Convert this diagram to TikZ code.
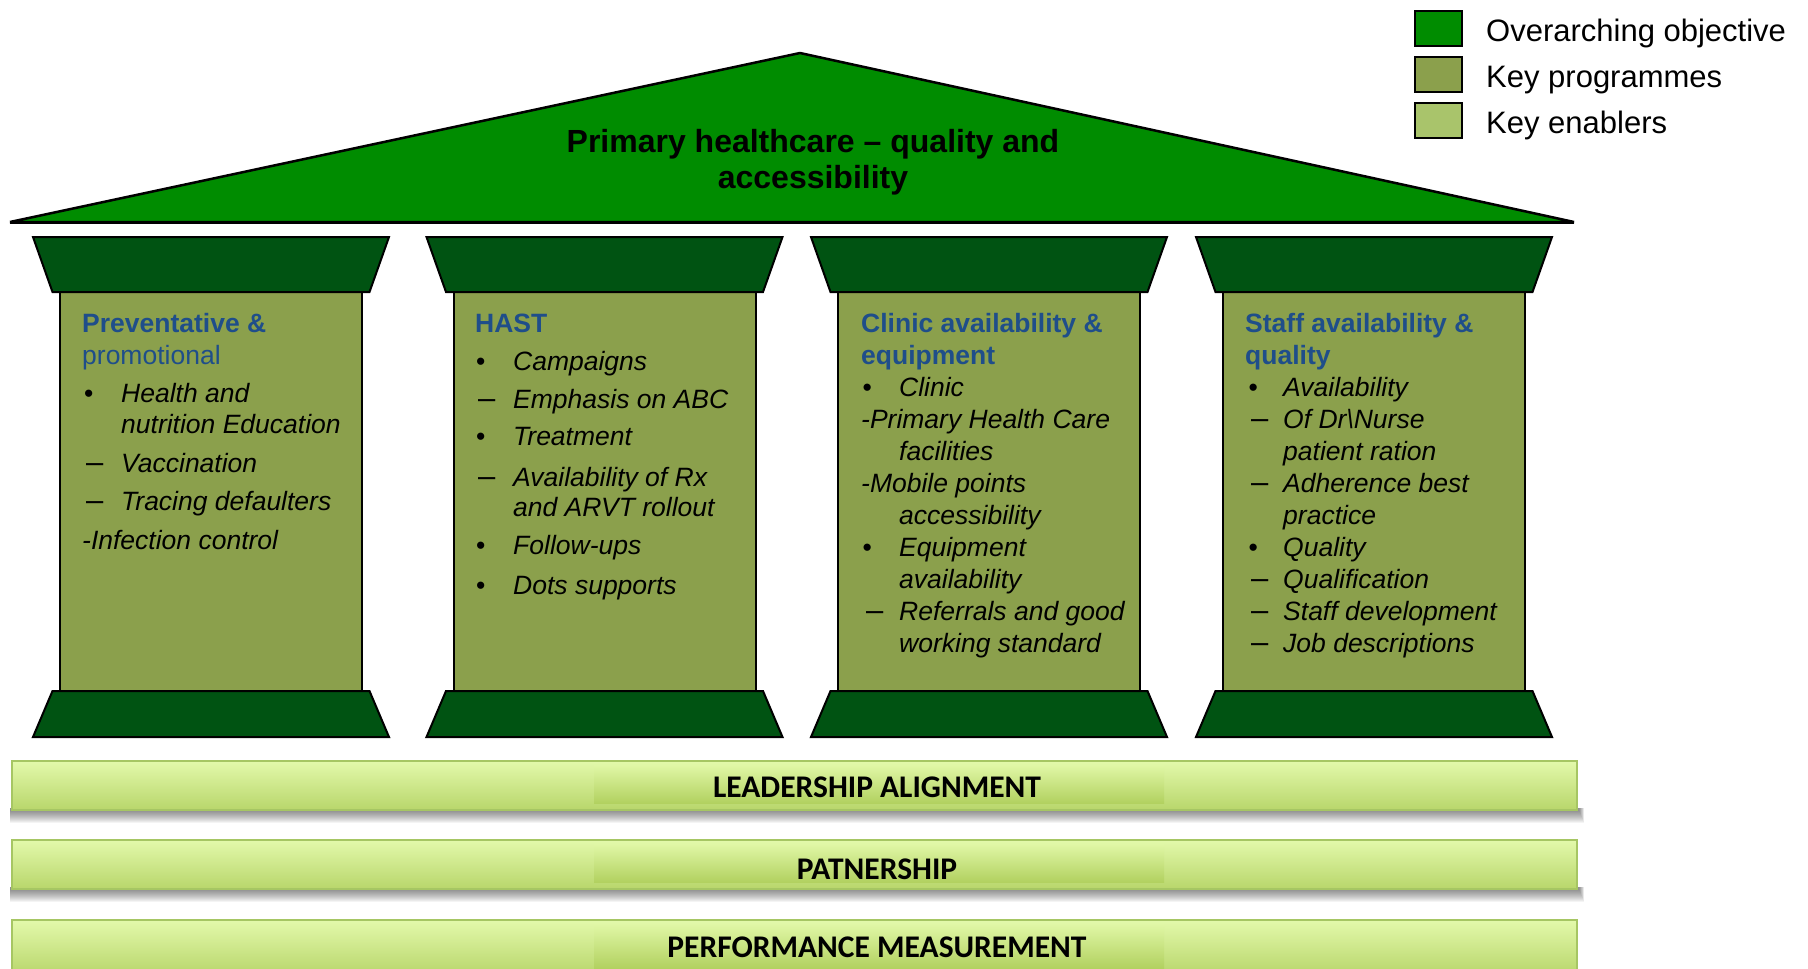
\documentclass[tikz,border=0pt]{standalone}
\usepackage{fontspec}
\setmainfont{Liberation Sans}
\newfontfamily\calib{Carlito}
\definecolor{roofgreen}{HTML}{008C00}
\definecolor{capgreen}{HTML}{005312}
\definecolor{bodyolive}{HTML}{8BA04C}
\definecolor{enabler}{HTML}{A9C46B}
\definecolor{headblue}{HTML}{1F4E8A}
\definecolor{bandtop}{HTML}{E3F9AB}
\definecolor{bandbot}{HTML}{B8D66B}
\definecolor{innertop}{HTML}{E0F7A6}
\definecolor{innerbot}{HTML}{B2D160}
\definecolor{bandedge}{HTML}{A6C663}
\tikzset{
  roofshape/.style={fill=roofgreen, draw=black, line width=2.5pt, line join=bevel},
  capshape/.style={fill=capgreen, draw=black, line width=2pt},
  bodyshape/.style={fill=bodyolive, draw=black, line width=2pt},
  legbox/.style={draw=black, line width=2pt},
  legtext/.style={anchor=base west, inner sep=0pt, font=\fontsize{31}{36}\selectfont},
  titletext/.style={anchor=base, inner sep=0pt, font=\fontsize{32}{36}\selectfont\bfseries},
  hd/.style={anchor=base west, inner sep=0pt, text=headblue, font=\fontsize{26.5}{31}\selectfont\bfseries},
  hdr/.style={anchor=base west, inner sep=0pt, text=headblue, font=\fontsize{26.5}{31}\selectfont},
  itm/.style={anchor=base west, inner sep=0pt, font=\fontsize{26.5}{31}\selectfont\itshape},
  bul/.style={anchor=base west, inner sep=0pt, font=\fontsize{26.5}{31}\selectfont},
  dsh/.style={anchor=base west, inner sep=0pt, font=\fontsize{31}{31}\selectfont},
  bandtext/.style={anchor=base, inner sep=0pt, font=\calib\bfseries\fontsize{31.5}{36}\selectfont},
}
\begin{document}
\begin{tikzpicture}[x=1pt,y=-1pt]
\useasboundingbox (0,0) rectangle (1808,969);
\clip (0,0) rectangle (1808,969);

% roof
\draw[roofshape] (10,222) -- (800,53) -- (1574,222) -- cycle;
\draw[line width=3pt, line cap=butt] (10,222) -- (1574,222);
\node[titletext] (title1) at (813,152) {Primary healthcare – quality and};
\node[titletext] (title2) at (813,188) {accessibility};

% legend
\draw[legbox, fill=roofgreen] (1415,11) rectangle (1462,46);
\draw[legbox, fill=bodyolive] (1415,57) rectangle (1462,92);
\draw[legbox, fill=enabler] (1415,103) rectangle (1462,138);
\node[legtext] (leg1) at (1486,41) {Overarching objective};
\node[legtext] (leg2) at (1486,87) {Key programmes};
\node[legtext] (leg3) at (1486,133) {Key enablers};

% columns
\foreach \L in {33,426.5,811,1196}{
  \draw[bodyshape] (\L+27,292) rectangle (\L+329,691);
  \draw[capshape] (\L,237) -- (\L+356,237) -- (\L+336.5,292) -- (\L+19.5,292) -- cycle;
  \draw[capshape] (\L+19.5,691) -- (\L+336.5,691) -- (\L+356,737) -- (\L,737) -- cycle;
}

% column 1
\node[hd]  (c1h1) at (82,332) {Preventative \&};
\node[hdr] (c1h2) at (82,364) {promotional};
\node[bul] (c1b1) at (84,402) {•};
\node[itm] (c1t1) at (121,402) {Health and};
\node[itm] (c1t2) at (121,433) {nutrition Education};
\node[dsh] (c1d1) at (86,472) {–};
\node[itm] (c1t3) at (121,472) {Vaccination};
\node[dsh] (c1d2) at (86,510) {–};
\node[itm] (c1t4) at (121,510) {Tracing defaulters};
\node[itm] (c1t5) at (82,549) {-Infection control};

% column 2
\node[hd]  (c2h1) at (475,332) {HAST};
\node[bul] (c2b1) at (476,370) {•};
\node[itm] (c2t1) at (513,370) {Campaigns};
\node[dsh] (c2d1) at (478,408) {–};
\node[itm] (c2t2) at (513,408) {Emphasis on ABC};
\node[bul] (c2b2) at (476,445) {•};
\node[itm] (c2t3) at (513,445) {Treatment};
\node[dsh] (c2d2) at (478,486) {–};
\node[itm] (c2t4) at (513,486) {Availability of Rx};
\node[itm] (c2t5) at (513,516) {and ARVT rollout};
\node[bul] (c2b3) at (476,554) {•};
\node[itm] (c2t6) at (513,554) {Follow-ups};
\node[bul] (c2b4) at (476,594) {•};
\node[itm] (c2t7) at (513,594) {Dots supports};

% column 3
\node[hd]  (c3h1) at (861,332) {Clinic availability \&};
\node[hd]  (c3h2) at (861,364) {equipment};
\node[bul] (c3b1) at (862.5,396) {•};
\node[itm] (c3t1) at (899,396) {Clinic};
\node[itm] (c3t2) at (861,428) {-Primary Health Care};
\node[itm] (c3t3) at (899,460) {facilities};
\node[itm] (c3t4) at (861,492) {-Mobile points};
\node[itm] (c3t5) at (899,524) {accessibility};
\node[bul] (c3b2) at (862.5,556) {•};
\node[itm] (c3t6) at (899,556) {Equipment};
\node[itm] (c3t7) at (899,588) {availability};
\node[dsh] (c3d1) at (866,620) {–};
\node[itm] (c3t8) at (899,620) {Referrals and good};
\node[itm] (c3t9) at (899,652) {working standard};

% column 4
\node[hd]  (c4h1) at (1245,332) {Staff availability \&};
\node[hd]  (c4h2) at (1245,364) {quality};
\node[bul] (c4b1) at (1248.5,396) {•};
\node[itm] (c4t1) at (1283,396) {Availability};
\node[dsh] (c4d1) at (1251,428) {–};
\node[itm] (c4t2) at (1283,428) {Of Dr\textbackslash Nurse};
\node[itm] (c4t3) at (1283,460) {patient ration};
\node[dsh] (c4d2) at (1251,492) {–};
\node[itm] (c4t4) at (1283,492) {Adherence best};
\node[itm] (c4t5) at (1283,524) {practice};
\node[bul] (c4b2) at (1248.5,556) {•};
\node[itm] (c4t6) at (1283,556) {Quality};
\node[dsh] (c4d3) at (1251,588) {–};
\node[itm] (c4t7) at (1283,588) {Qualification};
\node[dsh] (c4d4) at (1251,620) {–};
\node[itm] (c4t8) at (1283,620) {Staff development};
\node[dsh] (c4d5) at (1251,652) {–};
\node[itm] (c4t9) at (1283,652) {Job descriptions};

% bands
\foreach \t/\b in {761/810, 840/889, 920/975}{
  \foreach \k in {1,...,13}{
    \fill[black, opacity=0.045] (10,\b-2) rectangle (1579+\k*0.4,\b+\k);
  }
  \shade[top color=bandtop, bottom color=bandbot] (12,\t) rectangle (1577,\b);
  \shade[top color=innertop, bottom color=innerbot] (594,\t+4) rectangle (1164,\b-7);
  \draw[bandedge, line width=1.5pt] (12,\t) rectangle (1577,\b);
}
\node[bandtext] (band1) at (877,797) {LEADERSHIP ALIGNMENT};
\node[bandtext] (band2) at (877,879) {PATNERSHIP};
\node[bandtext] (band3) at (877,957) {PERFORMANCE MEASUREMENT};
\end{tikzpicture}
\end{document}
